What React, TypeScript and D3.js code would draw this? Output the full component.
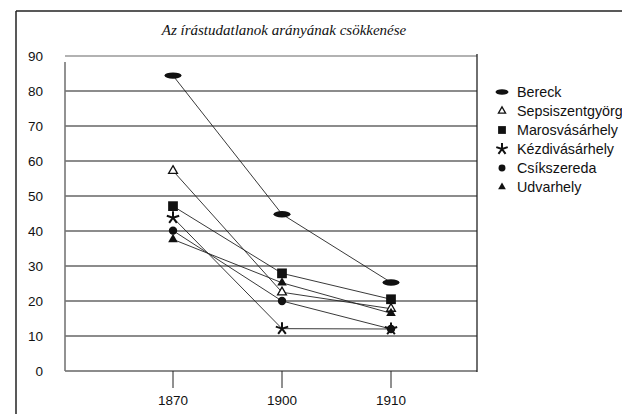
import React from "react";
import * as d3 from "d3";

const years = ["1870", "1900", "1910"];
const yTicks = [0, 10, 20, 30, 40, 50, 60, 70, 80, 90];
const seriesNames = ["Bereck", "Sepsiszentgyörgy", "Marosvásárhely", "Kézdivásárhely", "Csíkszereda", "Udvarhely"];
const bereck = [84.4, 44.8, 25.3];
const sepsiszentgyorgy = [57.2, 22.5, 17.8];
const marosvasarhely = [47.1, 27.9, 20.5];
const kezdivasarhely = [43.8, 12.1, 12.0];
const csikszereda = [40.1, 20.0, 12.0];
const udvarhely = [37.6, 25.2, 16.5];
const markerKinds = ["ellipse", "openTriangle", "square", "asterisk", "circle", "triangle"];
const title = "Az írástudatlanok arányának csökkenése";

const allSeries = [bereck, sepsiszentgyorgy, marosvasarhely, kezdivasarhely, csikszereda, udvarhely];

const W = 622;
const H = 414;
const plotLeft = 65;
const plotRight = 477;

const x = d3.scalePoint<string>().domain(years).range([173, 391]);
const y = d3.scaleLinear().domain([0, 90]).range([371, 56]);

const line = d3
  .line<number>()
  .x((_, i) => x(years[i]) as number)
  .y((d) => y(d));

function asteriskPath(r: number) {
  let p = "";
  for (let k = 0; k < 5; k++) {
    const a = (-90 + k * 72) * (Math.PI / 180);
    p += `M0,0L${(r * Math.cos(a)).toFixed(2)},${(r * Math.sin(a)).toFixed(2)}`;
  }
  return p;
}

function Marker({ kind, cx, cy, legend }: { kind: string; cx: number; cy: number; legend?: boolean }) {
  const s = legend ? 0.8 : 1;
  const t = `translate(${cx},${cy})`;
  switch (kind) {
    case "ellipse":
      return <ellipse cx={cx} cy={cy} rx={legend ? 6.5 : 8.5} ry={legend ? 2.8 : 3.2} fill="#111" />;
    case "openTriangle":
      return (
        <path
          transform={t}
          d={d3.symbol().type(d3.symbolTriangle).size(legend ? 22 : 34)() as string}
          fill="#fff"
          stroke="#111"
          strokeWidth={1.3}
        />
      );
    case "square":
      return (
        <path transform={t} d={d3.symbol().type(d3.symbolSquare).size(95 * s * s)() as string} fill="#111" />
      );
    case "asterisk":
      return (
        <path transform={t} d={asteriskPath(legend ? 6 : 6.5)} stroke="#111" strokeWidth={2} fill="none" />
      );
    case "circle":
      return (
        <path transform={t} d={d3.symbol().type(d3.symbolCircle).size(legend ? 38 : 55)() as string} fill="#111" />
      );
    case "triangle":
      return (
        <path transform={t} d={d3.symbol().type(d3.symbolTriangle).size(legend ? 26 : 40)() as string} fill="#111" />
      );
    default:
      return null;
  }
}

export default function App() {
  const font = "'Liberation Sans', Arial, sans-serif";
  return (
    <svg
      width={W}
      height={H}
      style={{ position: "absolute", left: 0, top: 0, background: "#fff" }}
      xmlns="http://www.w3.org/2000/svg"
    >
      <rect x={0} y={0} width={W} height={H} fill="#fff" />
      {/* frame */}
      <line x1={16} y1={11} x2={W} y2={11} stroke="#222" strokeWidth={1.5} />
      <line x1={16} y1={11} x2={16} y2={H} stroke="#222" strokeWidth={1.5} />

      <text
        x={284}
        y={35}
        textAnchor="middle"
        fontFamily="'Liberation Serif', 'Times New Roman', serif"
        fontStyle="italic"
        fontSize={15}
        fill="#111"
      >
        {title}
      </text>

      {/* gridlines */}
      {yTicks.map((t) => (
        <line
          key={t}
          x1={plotLeft}
          x2={plotRight}
          y1={y(t)}
          y2={y(t)}
          stroke={t === 90 ? "#999" : "#666"}
          strokeWidth={1.6}
        />
      ))}
      {/* left axis */}
      <line x1={plotLeft} x2={plotLeft} y1={62} y2={y(0)} stroke="#777" strokeWidth={1.6} />
      {/* right edge */}
      <line x1={plotRight} x2={plotRight} y1={54} y2={y(0) + 1} stroke="#222" strokeWidth={1.3} />

      {/* y tick labels */}
      {yTicks.map((t) => (
        <text
          key={t}
          x={43}
          y={y(t)}
          dy="0.35em"
          textAnchor="end"
          fontFamily={font}
          fontSize={13.5}
          fill="#111"
        >
          {t}
        </text>
      ))}

      {/* x ticks */}
      {years.map((yr) => (
        <g key={yr}>
          <line x1={x(yr)} x2={x(yr)} y1={y(0)} y2={388} stroke="#222" strokeWidth={1} />
          <text x={x(yr)} y={400} dy="0.35em" textAnchor="middle" fontFamily={font} fontSize={13.5} fill="#111">
            {yr}
          </text>
        </g>
      ))}

      {/* lines */}
      {allSeries.map((s, i) => (
        <path key={i} d={line(s) as string} fill="none" stroke="#222" strokeWidth={0.9} />
      ))}
      {/* markers */}
      {allSeries.map((s, i) =>
        s.map((v, j) => <Marker key={`${i}-${j}`} kind={markerKinds[i]} cx={x(years[j]) as number} cy={y(v)} />)
      )}

      {/* legend */}
      {seriesNames.map((n, i) => {
        const ly = 92 + i * 19;
        return (
          <g key={n}>
            <Marker kind={markerKinds[i]} cx={502} cy={ly} legend />
            <text x={517} y={ly} dy="0.35em" fontFamily={font} fontSize={14.3} fill="#111">
              {n}
            </text>
          </g>
        );
      })}
    </svg>
  );
}
